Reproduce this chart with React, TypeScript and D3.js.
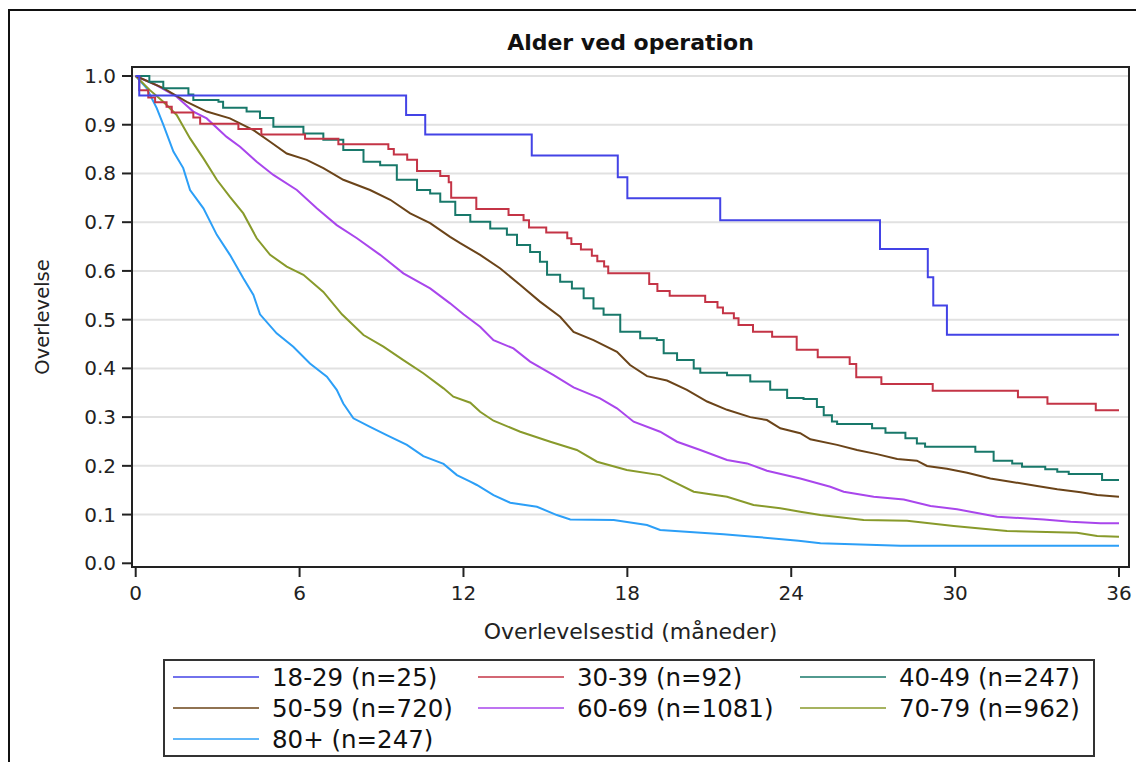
import React from "react";
import * as d3 from "d3";

type Pt = [number, number];

const title = "Alder ved operation";
const xLabel = "Overlevelsestid (måneder)";
const yLabel = "Overlevelse";
const xTicks = [0, 6, 12, 18, 24, 30, 36];
const yTicks = [0, 0.1, 0.2, 0.3, 0.4, 0.5, 0.6, 0.7, 0.8, 0.9, 1.0];

const groupLabels = [
  "18-29 (n=25)",
  "30-39 (n=92)",
  "40-49 (n=247)",
  "50-59 (n=720)",
  "60-69 (n=1081)",
  "70-79 (n=962)",
  "80+ (n=247)",
];
const groupColors = ["#4343E6", "#C43446", "#18786A", "#6B4419", "#A946EC", "#889A2B", "#2C9FF7"];
const groupStep = [true, true, true, false, false, false, false];

const s1829: Pt[] = [
  [0, 1], [0.13, 0.96], [9.9, 0.92], [10.6, 0.88], [14.5, 0.837], [17.65, 0.792], [18.0, 0.749],
  [21.4, 0.704], [27.25, 0.645], [29.0, 0.587], [29.2, 0.529], [29.7, 0.469], [36, 0.469],
];
const s3039: Pt[] = [
  [0, 1], [0.13, 0.971], [0.46, 0.956], [0.71, 0.946], [1.13, 0.937], [1.32, 0.925], [2.11, 0.915],
  [2.36, 0.902], [3.76, 0.891], [4.6, 0.88], [6.2, 0.871], [7.42, 0.86], [9.25, 0.85], [9.45, 0.839],
  [9.94, 0.828], [10.3, 0.805], [11.15, 0.795], [11.46, 0.782], [11.55, 0.75], [12.47, 0.727],
  [13.65, 0.715], [14.2, 0.704], [14.4, 0.689], [15.03, 0.679], [15.8, 0.667], [15.95, 0.655],
  [16.3, 0.644], [16.7, 0.631], [16.9, 0.62], [17.15, 0.609], [17.3, 0.595], [18.8, 0.573],
  [19.1, 0.559], [19.55, 0.549], [20.85, 0.536], [21.3, 0.525], [21.5, 0.513], [21.9, 0.503],
  [22.07, 0.489], [22.6, 0.475], [23.3, 0.465], [24.2, 0.438], [24.97, 0.423], [26.14, 0.409],
  [26.38, 0.382], [27.3, 0.368], [29.18, 0.354], [32.3, 0.341], [33.38, 0.3275], [35.15, 0.314],
  [36, 0.314],
];
const s4049: Pt[] = [
  [0, 1], [0.5, 0.988], [1.01, 0.975], [1.93, 0.962], [2.11, 0.951], [3.03, 0.947], [3.2, 0.935],
  [4.06, 0.927], [4.55, 0.914], [5.04, 0.896], [6.14, 0.882], [6.87, 0.869], [7.6, 0.848],
  [8.34, 0.824], [8.95, 0.817], [9.56, 0.787], [10.3, 0.766], [10.78, 0.759], [11.15, 0.742],
  [11.7, 0.715], [12.25, 0.701], [12.98, 0.687], [13.59, 0.674], [13.96, 0.653], [14.44, 0.639],
  [14.8, 0.619], [15.06, 0.592], [15.54, 0.578], [15.97, 0.564], [16.4, 0.544], [16.76, 0.523],
  [17.13, 0.51], [17.74, 0.475], [18.47, 0.462], [19.08, 0.458], [19.33, 0.431], [19.82, 0.417],
  [20.43, 0.4], [20.67, 0.391], [21.65, 0.386], [22.5, 0.373], [23.23, 0.356], [23.85, 0.339],
  [24.45, 0.337], [24.94, 0.321], [25.19, 0.304], [25.49, 0.291], [25.68, 0.286], [26.96, 0.277],
  [27.45, 0.268], [28.18, 0.2565], [28.6, 0.246], [28.9, 0.239], [30.74, 0.229], [31.41, 0.2105],
  [32.09, 0.205], [32.45, 0.198], [33.3, 0.193], [33.74, 0.188], [34.16, 0.183], [35.38, 0.171],
  [36, 0.171],
];
const s5059: Pt[] = [
  [0, 1], [1.01, 0.975], [1.87, 0.947], [2.6, 0.927], [3.45, 0.913], [4.31, 0.889], [4.92, 0.865],
  [5.53, 0.841], [6.26, 0.828], [6.87, 0.811], [7.6, 0.787], [8.58, 0.766], [9.32, 0.746],
  [10.05, 0.718], [10.78, 0.698], [11.51, 0.67], [11.88, 0.657], [12.61, 0.633], [13.35, 0.605],
  [14.08, 0.571], [14.8, 0.537], [15.54, 0.506], [16.03, 0.475], [16.76, 0.458], [17.62, 0.434],
  [18.1, 0.407], [18.72, 0.384], [19.45, 0.375], [20.18, 0.356], [20.92, 0.332], [21.65, 0.315],
  [22.5, 0.3], [23.11, 0.294], [23.6, 0.277], [24.33, 0.267], [24.7, 0.2545], [25.68, 0.243],
  [26.41, 0.2325], [27.14, 0.224], [27.88, 0.214], [28.6, 0.2105], [28.97, 0.1997], [29.7, 0.194],
  [30.44, 0.186], [31.29, 0.174], [32.03, 0.1675], [33.0, 0.1586], [33.74, 0.152], [34.6, 0.146],
  [35.2, 0.14], [36, 0.1367],
];
const s6069: Pt[] = [
  [0, 1], [0.77, 0.981], [1.5, 0.9575], [2.11, 0.927], [2.6, 0.913], [3.33, 0.875], [3.82, 0.855],
  [4.43, 0.824], [5.04, 0.797], [5.9, 0.766], [6.63, 0.7285], [7.36, 0.694], [8.1, 0.667],
  [8.95, 0.633], [9.8, 0.595], [10.78, 0.564], [11.51, 0.5335], [12.0, 0.511], [12.61, 0.4855],
  [13.1, 0.458], [13.83, 0.441], [14.44, 0.414], [15.3, 0.386], [16.03, 0.361], [17.0, 0.3386],
  [17.62, 0.318], [18.23, 0.2906], [19.2, 0.27], [19.82, 0.2495], [20.67, 0.2325], [21.65, 0.212],
  [22.38, 0.205], [23.11, 0.19], [24.33, 0.174], [25.43, 0.157], [25.92, 0.147], [27.02, 0.1367],
  [28.12, 0.131], [29.1, 0.1176], [30.07, 0.111], [31.54, 0.0956], [33.25, 0.09], [34.23, 0.0854],
  [35.32, 0.082], [36, 0.082],
];
const s7079: Pt[] = [
  [0, 1], [0.52, 0.971], [1.01, 0.947], [1.5, 0.92], [1.99, 0.872], [2.48, 0.831], [2.97, 0.787],
  [3.45, 0.752], [3.94, 0.718], [4.43, 0.667], [4.92, 0.633], [5.53, 0.609], [6.14, 0.592],
  [6.87, 0.557], [7.55, 0.511], [8.34, 0.4685], [9.07, 0.4445], [9.8, 0.417], [10.53, 0.39],
  [11.27, 0.359], [11.63, 0.342], [12.25, 0.3296], [12.61, 0.311], [13.1, 0.2926], [14.08, 0.27],
  [15.18, 0.2495], [16.15, 0.2325], [16.89, 0.2085], [17.98, 0.1915], [19.2, 0.181], [20.43, 0.147],
  [21.65, 0.1367], [22.62, 0.1196], [23.6, 0.113], [24.33, 0.106], [25.07, 0.099], [26.65, 0.0889],
  [28.24, 0.0875], [29.95, 0.0766], [31.9, 0.0663], [34.46, 0.0629], [35.2, 0.056], [36, 0.0546],
];
const s80: Pt[] = [
  [0, 1], [0.4, 0.975], [0.77, 0.934], [1.01, 0.9], [1.38, 0.845], [1.74, 0.811], [1.99, 0.766],
  [2.48, 0.7285], [2.97, 0.674], [3.45, 0.633], [3.94, 0.585], [4.31, 0.5506], [4.55, 0.511],
  [5.16, 0.472], [5.77, 0.4445], [6.38, 0.41], [7.0, 0.383], [7.36, 0.356], [7.6, 0.328],
  [7.97, 0.2976], [8.58, 0.28], [9.19, 0.263], [9.93, 0.243], [10.53, 0.22], [11.27, 0.204],
  [11.76, 0.181], [12.25, 0.1675], [12.49, 0.1607], [13.1, 0.14], [13.71, 0.1244], [14.69, 0.116],
  [15.42, 0.099], [15.91, 0.09], [17.5, 0.0889], [18.72, 0.0786], [19.2, 0.0683], [21.52, 0.0595],
  [22.62, 0.0546], [24.27, 0.0464], [25.07, 0.041], [28.0, 0.036], [36, 0.036],
];

const seriesData = [s1829, s3039, s4049, s5059, s6069, s7079, s80];

const W = 1136;
const H = 762;
const plotL = 132;
const plotR = 1129;
const plotT = 67;
const plotB = 567;
const FONT = "'DejaVu Sans', sans-serif";

export default function App() {
  const x = d3.scaleLinear().domain([0, 36]).range([135.7, 1119]);
  const y = d3.scaleLinear().domain([0, 1]).range([563.3, 76]);
  const fmt = d3.format(".1f");

  const lineFor = (step: boolean) =>
    d3
      .line<Pt>()
      .x((d) => x(d[0]))
      .y((d) => y(d[1]))
      .curve(step ? d3.curveStepAfter : d3.curveLinear);

  const legendCols = [173, 478, 800];
  const legendRows = [677, 708, 739];

  const drawOrder = [6, 5, 4, 3, 2, 1, 0];

  return (
    <svg
      width={W}
      height={H}
      style={{ position: "absolute", left: 0, top: 0, background: "#fff" }}
      fontFamily={FONT}
    >
      <rect x={0} y={0} width={W} height={H} fill="#fff" />
      <rect x={9} y={10} width={W + 20} height={H + 20} fill="none" stroke="#111" strokeWidth={2} />

      <text x={(plotL + plotR) / 2} y={50} textAnchor="middle" fontSize={22} fontWeight="bold" fill="#111">
        {title}
      </text>

      {yTicks
        .filter((t) => t > 0)
        .map((t) => (
          <line key={"g" + t} x1={plotL + 1} x2={plotR - 1} y1={y(t)} y2={y(t)} stroke="#e1e1e1" strokeWidth={2} />
        ))}

      {drawOrder.map((i) => (
        <path
          key={"s" + i}
          d={lineFor(groupStep[i])(seriesData[i]) || ""}
          fill="none"
          stroke={groupColors[i]}
          strokeWidth={2}
          strokeLinejoin="miter"
        />
      ))}

      <rect x={plotL} y={plotT} width={plotR - plotL} height={plotB - plotT} fill="none" stroke="#222" strokeWidth={2} />

      {yTicks.map((t) => (
        <g key={"y" + t}>
          <line x1={plotL - 10} x2={plotL} y1={y(t)} y2={y(t)} stroke="#222" strokeWidth={2} />
          <text x={plotL - 16} y={y(t) + 7} textAnchor="end" fontSize={20} fill="#222">
            {fmt(t)}
          </text>
        </g>
      ))}

      {xTicks.map((t) => (
        <g key={"x" + t}>
          <line x1={x(t)} x2={x(t)} y1={plotB} y2={plotB + 10} stroke="#222" strokeWidth={2} />
          <text x={x(t)} y={600} textAnchor="middle" fontSize={20} fill="#222">
            {t}
          </text>
        </g>
      ))}

      <text x={(plotL + plotR) / 2} y={639} textAnchor="middle" fontSize={22} fill="#222">
        {xLabel}
      </text>
      <text
        transform={`translate(49, ${(plotT + plotB) / 2}) rotate(-90)`}
        textAnchor="middle"
        fontSize={19.5}
        fill="#222"
      >
        {yLabel}
      </text>

      <rect x={164} y={660} width={930} height={96} fill="#fff" stroke="#333" strokeWidth={2} />
      {groupLabels.map((lab, i) => {
        const cx = legendCols[i % 3];
        const cy = legendRows[Math.floor(i / 3)];
        return (
          <g key={"l" + i}>
            <line x1={cx} x2={cx + 86} y1={cy} y2={cy} stroke={groupColors[i]} strokeWidth={1.5} />
            <text x={cx + 99} y={cy + 9} fontSize={24.5} fill="#111">
              {lab}
            </text>
          </g>
        );
      })}
    </svg>
  );
}
